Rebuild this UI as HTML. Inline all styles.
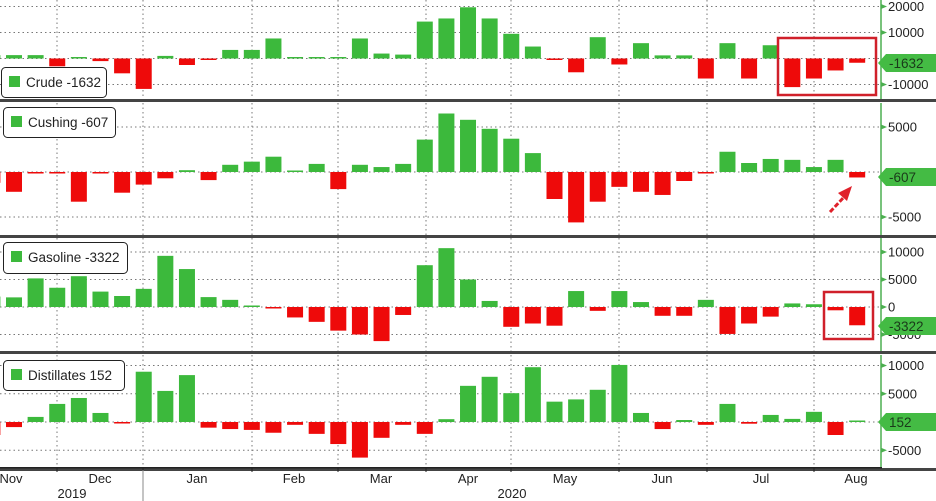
<!DOCTYPE html>
<html><head><meta charset="utf-8">
<style>
body{margin:0;background:#fff;}
svg{display:block;font-family:"Liberation Sans",sans-serif;}
</style></head>
<body>
<svg id="chart" width="936" height="501" viewBox="0 0 936 501" xmlns="http://www.w3.org/2000/svg"></svg>
<script>
const weeks = ["w0","w1","w2","w3","w4","w5","w6","w7","w8","w9","w10","w11","w12","w13","w14","w15","w16","w17","w18","w19","w20","w21","w22","w23","w24","w25","w26","w27","w28","w29","w30","w31","w32","w33","w34","w35","w36","w37","w38","w39","w40"];
const crude = [1300,1300,1300,-3000,500,-1000,-5700,-11700,1000,-2500,-300,3300,3300,7700,200,200,500,7700,1900,1500,14200,15400,19700,15400,9500,4600,-500,-5300,8200,-2300,5900,1200,1200,-7700,5900,-7700,5100,-11000,-7700,-4600,-1632];
const cushing = [-1200,-2200,-100,-100,-3300,-100,-2300,-1400,-700,200,-900,800,1150,1700,50,900,-1900,800,550,900,3600,6500,5800,4800,3700,2100,-3000,-5600,-3300,-1650,-2200,-2550,-1000,-150,2250,1000,1450,1350,550,1350,-607];
const gasoline = [1900,1750,5200,3500,5600,2800,2000,3300,9300,6900,1800,1300,50,-50,-1900,-2700,-4300,-5000,-6200,-1450,7600,10700,5000,1100,-3600,-3000,-3400,2900,-700,2900,900,-1600,-1600,1300,-4900,-3000,-1750,650,500,-600,-3322];
const distillates = [-2300,-900,900,3200,4250,1600,-50,8900,5500,8300,-1000,-1250,-1400,-1900,-500,-2100,-3900,-6300,-2800,-500,-2100,500,6400,8000,5100,9700,3600,4000,5700,10100,1600,-1250,350,-500,3200,-300,1250,550,1800,-2300,152];
const crudeTicks = [20000,10000,-10000];
const cushingTicks = [5000,-5000];
const gasolineTicks = [10000,5000,0,-5000];
const distTicks = [10000,5000,-5000];
const monthLabels = ["Nov","Dec","Jan","Feb","Mar","Apr","May","Jun","Jul","Aug"];
const monthLabelX = [11,100,197,294,381,468,565,662,761,856];
const monthGridX = [57,143,252,338,426,511,619,707,814];

const NS="http://www.w3.org/2000/svg";
const svg=document.getElementById('chart');
function mk(tag,attrs,parent){const e=document.createElementNS(NS,tag);for(const k in attrs)e.setAttribute(k,attrs[k]);(parent||svg).appendChild(e);return e;}
const GREEN="#3cb93c", RED="#ee0a0a", AXG="#4caf50";
const STEP=21.62, X0=14-21.62, BW=16;
function xOf(i){return X0+i*STEP;}

const panels=[
 {name:"crude",label:"Crude",vals:crude,ticks:crudeTicks,zero:58.5,scale:2.6,top:0,bot:99,lg:[1,67,105,30],tagY:63,tagTxt:"-1632"},
 {name:"cushing",label:"Cushing",vals:cushing,ticks:cushingTicks,zero:172,scale:9.0,top:103,bot:235,lg:[3,107,112,30],tagY:177,tagTxt:"-607"},
 {name:"gasoline",label:"Gasoline",vals:gasoline,ticks:gasolineTicks,zero:307,scale:5.5,top:238,bot:351,lg:[3,242,124,31],tagY:326,tagTxt:"-3322"},
 {name:"distillates",label:"Distillates",vals:distillates,ticks:distTicks,zero:422,scale:5.65,top:355,bot:468,lg:[3,360,121,30],tagY:422,tagTxt:"152"}
];

panels.forEach(p=>{
 const g=mk('g',{});
 
 
 const yOf=v=>p.zero-v*p.scale/1000;
 // vertical grid
 monthGridX.forEach(x=>{
  const l=mk('line',{x1:x,x2:x,y1:p.top,y2:p.bot,stroke:"#777","stroke-dasharray":"1.5,3","stroke-width":1},g);
  
  
 });
 // horizontal grid + ticks
 const allT=p.ticks.concat(p.ticks.indexOf(0)<0?[0]:[]);
 allT.forEach(t=>{
  const y=yOf(t);
  const l=mk('line',{x1:0,x2:880,y1:y,y2:y,stroke:"#777","stroke-dasharray":"1.5,3","stroke-width":1},g);
  
  
 });
 p.ticks.forEach(t=>{
  const y=yOf(t);
  mk('path',{d:`M881 ${y-2.5} L887 ${y} L881 ${y+2.5}Z`,fill:AXG},g);
  const tx=mk('text',{x:888,y:y+4.5,"font-size":13,fill:"#222"},g);
  tx.textContent=String(t);
  
  
 });
 // bars
 p.vals.forEach((v,i)=>{
  const y=yOf(v), y0=p.zero;
  let h=Math.abs(y-y0); if(h<1.5)h=1.5;
  const r=mk('rect',{x:xOf(i)-BW/2,y:v>=0?y0-h:y0,width:BW,height:h,fill:v>=0?GREEN:RED},g);
  
  
 });
 // axis line
 mk('line',{x1:881,x2:881,y1:p.top,y2:p.bot,stroke:AXG,"stroke-width":1.5},g);
 // legend
 const [lx,ly,lw,lh]=p.lg;
 const lgd=mk('g',{},g);
 
 
 mk('rect',{x:lx+.5,y:ly+.5,width:lw,height:lh,rx:4,fill:"#fff",stroke:"#222","stroke-width":1},lgd);
 mk('rect',{x:lx+8,y:ly+9,width:11,height:11,fill:GREEN},lgd);
 const lt=mk('text',{x:lx+25,y:ly+20,"font-size":13.5,fill:"#222"},lgd);
 lt.textContent=p.label+"  "+p.tagTxt;
 lt.setAttribute('xml:space','preserve');
 // value tag
 const ty=p.tagY;
 const tg=mk('g',{},g);
 
 
 mk('path',{d:`M878 ${ty} L886 ${ty-9} L936 ${ty-9} L936 ${ty+9} L886 ${ty+9}Z`,fill:"#44bb44"},tg);
 const tt=mk('text',{x:889,y:ty+5,"font-size":13.5,fill:"#1a3a1a"},tg);
 tt.textContent=p.tagTxt;
 // separator
 mk('rect',{x:0,y:p.bot,width:936,height:3,fill:"#444"},g);
});
// x axis
mk('rect',{x:0,y:467,width:882,height:1.5,fill:"#222"});
monthGridX.forEach(x=>mk('line',{x1:x,x2:x,y1:468,y2:472,stroke:"#222"}));
monthLabels.forEach((m,i)=>{
 const t=mk('text',{x:monthLabelX[i],y:483,"font-size":13,fill:"#222","text-anchor":"middle"});
 t.textContent=m;
 
 
});
mk('line',{x1:143,x2:143,y1:470,y2:501,stroke:"#888"});
[["2019",72],["2020",512]].forEach(([s,x])=>{
 const t=mk('text',{x:x,y:498,"font-size":13,fill:"#222","text-anchor":"middle"});
 t.textContent=s;
 
 
});
// annotations
const a1=mk('rect',{x:778,y:38,width:98,height:57,fill:"none",stroke:"#d0202a","stroke-width":2.5});


const a2=mk('rect',{x:824,y:292,width:49,height:47,fill:"none",stroke:"#d0202a","stroke-width":2.5});


const a3=mk('g',{});


mk('line',{x1:830,y1:212,x2:845,y2:196,stroke:"#e0202a","stroke-width":3,"stroke-dasharray":"5,2"},a3);
mk('path',{d:"M852 186 L838 193 L847 201Z",fill:"#e0202a"},a3);
</script>
</body></html>
